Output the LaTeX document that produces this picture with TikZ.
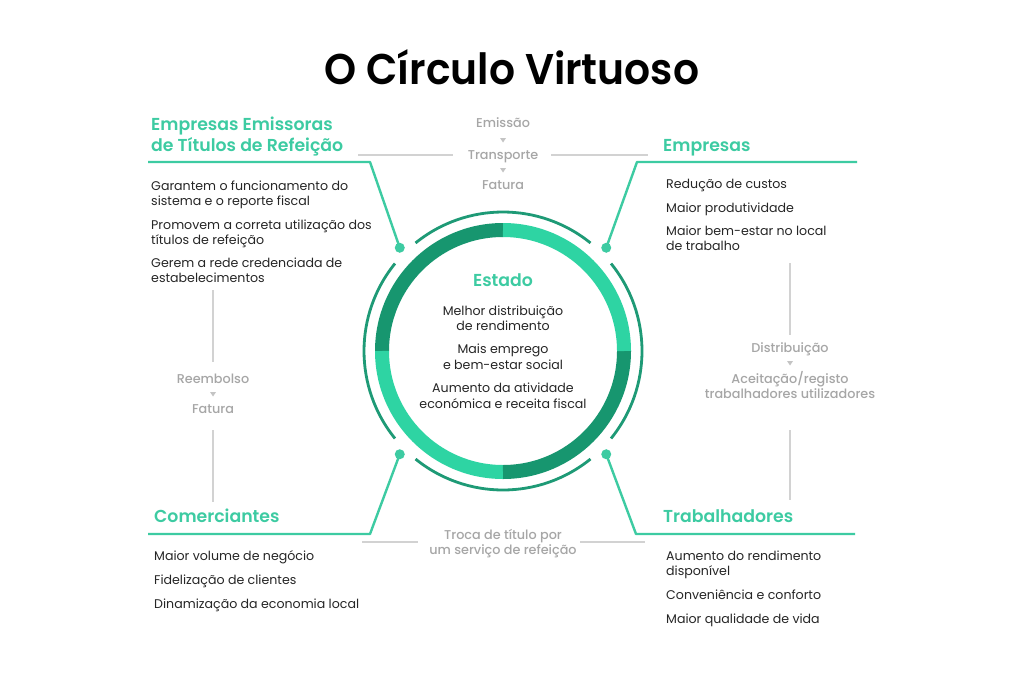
\documentclass[tikz,border=0pt]{standalone}
\usepackage{fontspec}
\setmainfont{Poppins}
\IfFontExistsTF{Poppins SemiBold}{\newfontfamily\semibf{Poppins SemiBold}}{\newfontfamily\semibf{Poppins}[UprightFont=*-Bold]}
\IfFontExistsTF{Poppins Medium}{\newfontfamily\mediumf{Poppins Medium}}{\newfontfamily\mediumf{Poppins}}
\definecolor{tealc}{HTML}{3DCBA2}
\definecolor{ringdark}{HTML}{17966F}
\definecolor{ringlight}{HTML}{2ED4A3}
\definecolor{thinc}{HTML}{1E9A76}
\definecolor{grayline}{HTML}{D2D2D2}
\definecolor{graytext}{HTML}{A6A6A6}
\definecolor{arrowgray}{HTML}{C4C4C4}
\definecolor{bodyc}{HTML}{262626}
\tikzset{
  body/.style={anchor=base west, inner sep=0pt, text=bodyc, font=\fontsize{12.6}{15}\selectfont},
  bodyc/.style={anchor=base, inner sep=0pt, text=bodyc, font=\fontsize{12.6}{15}\selectfont},
  head/.style={anchor=base west, inner sep=0pt, text=tealc, font=\semibf\fontsize{17.3}{20}\selectfont},
  headc/.style={anchor=base, inner sep=0pt, text=tealc, font=\semibf\fontsize{17.3}{20}\selectfont},
  flow/.style={anchor=base, inner sep=0pt, text=graytext, font=\mediumf\fontsize{12.8}{15}\selectfont},
  tealline/.style={draw=tealc, line width=2.4pt, line join=round},
  grayln/.style={draw=grayline, line width=2pt},
  thinarc/.style={draw=thinc, line width=2.8pt},
  dotc/.style={circle, fill=tealc, inner sep=0pt, minimum size=10pt},
}
\begin{document}
\begin{tikzpicture}[x=1pt,y=-1pt]
\useasboundingbox (0,0) rectangle (1024,682);
\fill[white] (0,0) rectangle (1024,682);
% title
\node[font=\semibf\fontsize{43}{48}\selectfont, text=black, inner sep=0pt] (title) at (512,67) {\scalebox{0.95}[1]{O Círculo Virtuoso}};
% ring
\begin{scope}[shift={(503,351)},y=1pt]
  \draw[ringdark, line width=14pt] (90:121) arc[start angle=90, end angle=180, radius=121];
  \draw[ringlight, line width=14pt] (180:121) arc[start angle=180, end angle=270, radius=121];
  \draw[ringdark, line width=14pt] (270:121) arc[start angle=270, end angle=360, radius=121];
  \draw[ringlight, line width=14pt] (0:121) arc[start angle=0, end angle=90, radius=121];
  \draw[thinarc] (51:139) arc[start angle=51, end angle=129, radius=139];
  \draw[thinarc] (141:139) arc[start angle=141, end angle=219, radius=139];
  \draw[thinarc] (231:139) arc[start angle=231, end angle=309, radius=139];
  \draw[thinarc] (321:139) arc[start angle=321, end angle=399, radius=139];
  \node[dotc] (dTR) at (45:146) {};
  \node[dotc] (dTL) at (135:146) {};
  \node[dotc] (dBL) at (225:146) {};
  \node[dotc] (dBR) at (315:146) {};
\end{scope}
% connector corners
\coordinate (cTL) at (370,162); \coordinate (uTL) at (148,162);
\coordinate (cTR) at (637,162); \coordinate (uTR) at (857,162);
\coordinate (cBL) at (370,534); \coordinate (uBL) at (148,534);
\coordinate (cBR) at (636,534); \coordinate (uBR) at (855,534);
\draw[tealline] (dTL.center) -- (cTL) -- (uTL);
\draw[tealline] (dTR.center) -- (cTR) -- (uTR);
\draw[tealline] (dBL.center) -- (cBL) -- (uBL);
\draw[tealline] (dBR.center) -- (cBR) -- (uBR);
% gray flow lines
\coordinate (g1a) at (358,155); \coordinate (g1b) at (453,155);
\coordinate (g2a) at (551,155); \coordinate (g2b) at (648,155);
\coordinate (g3a) at (213,290); \coordinate (g3b) at (213,362);
\coordinate (g4a) at (213,430); \coordinate (g4b) at (213,502);
\coordinate (g5a) at (790,263); \coordinate (g5b) at (790,335);
\coordinate (g6a) at (790,430); \coordinate (g6b) at (790,500);
\coordinate (g7a) at (362,542); \coordinate (g7b) at (418,542);
\coordinate (g8a) at (580,542); \coordinate (g8b) at (645,542);
\draw[grayln] (g1a) -- (g1b);
\draw[grayln] (g2a) -- (g2b);
\draw[grayln] (g3a) -- (g3b);
\draw[grayln] (g4a) -- (g4b);
\draw[grayln] (g5a) -- (g5b);
\draw[grayln] (g6a) -- (g6b);
\draw[grayln] (g7a) -- (g7b);
\draw[grayln] (g8a) -- (g8b);
% flow labels
\node[flow] (f1) at (503,128) {Emissão};
\node[flow] (f2) at (503,159) {Transporte};
\node[flow] (f3) at (503,189) {Fatura};
\node[flow] (f4) at (213,383) {Reembolso};
\node[flow] (f5) at (213,413) {Fatura};
\node[flow] (f6) at (790,352) {Distribuição};
\node[flow] (f7) at (790,383) {Aceitação/registo};
\node[flow] (f8) at (790,398) {trabalhadores utilizadores};
\node[flow] (f9) at (503,539) {Troca de título por};
\node[flow] (f10) at (503,554) {um serviço de refeição};
% small triangles
\coordinate (t1) at (503,140); \coordinate (t2) at (503,170);
\coordinate (t3) at (213,394); \coordinate (t4) at (790,363);
\foreach \t in {t1,t2,t3,t4} \fill[arrowgray] (\t) ++(-3,-2) -- ++(6,0) -- ++(-3,4.5) -- cycle;
% headings
\node[head] (hA1) at (151,131) {Empresas Emissoras};
\node[head] (hA2) at (151,151) {de Títulos de Refeição};
\node[head] (hB) at (663,151) {Empresas};
\node[head] (hC) at (154,522) {Comerciantes};
\node[head] (hD) at (663,522) {Trabalhadores};
\node[headc] (hE) at (503,286) {Estado};
% body: top left
\node[body] (a1) at (151,190) {Garantem o funcionamento do};
\node[body] (a2) at (151,205) {sistema e o reporte fiscal};
\node[body] (a3) at (151,229) {Promovem a correta utilização dos};
\node[body] (a4) at (151,244) {títulos de refeição};
\node[body] (a5) at (151,267) {Gerem a rede credenciada de};
\node[body] (a6) at (151,282) {estabelecimentos};
% top right
\node[body] (b1) at (666,188) {Redução de custos};
\node[body] (b2) at (666,212) {Maior produtividade};
\node[body] (b3) at (666,235) {Maior bem-estar no local};
\node[body] (b4) at (666,250) {de trabalho};
% center
\node[bodyc] (e1) at (503,315) {Melhor distribuição};
\node[bodyc] (e2) at (503,330) {de rendimento};
\node[bodyc] (e3) at (503,353) {Mais emprego};
\node[bodyc] (e4) at (503,369) {e bem-estar social};
\node[bodyc] (e5) at (503,392) {Aumento da atividade};
\node[bodyc] (e6) at (503,408) {económica e receita fiscal};
% bottom left
\node[body] (c1) at (154,560) {Maior volume de negócio};
\node[body] (c2) at (154,584) {Fidelização de clientes};
\node[body] (c3) at (154,608) {Dinamização da economia local};
% bottom right
\node[body] (d1) at (666,560) {Aumento do rendimento};
\node[body] (d2) at (666,575) {disponível};
\node[body] (d3) at (666,599) {Conveniência e conforto};
\node[body] (d4) at (666,623) {Maior qualidade de vida};
\end{tikzpicture}
\end{document}
